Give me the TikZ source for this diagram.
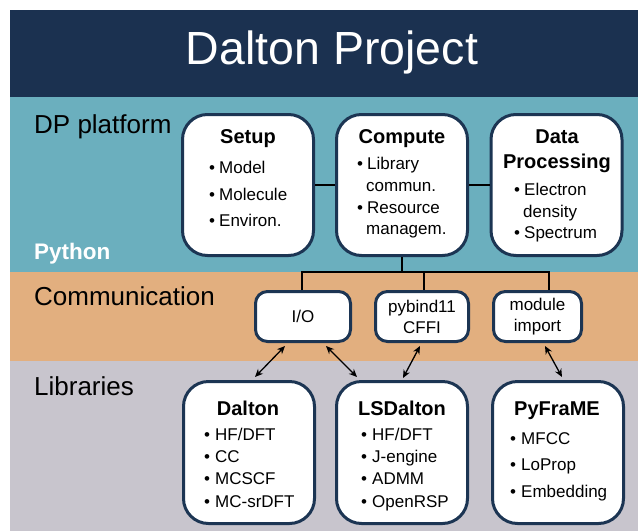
\documentclass[tikz,border=0pt]{standalone}
\usepackage{fontspec}
\setmainfont{Liberation Sans}
\usetikzlibrary{arrows.meta}
\definecolor{navy}{HTML}{1B3150}
\definecolor{teal}{HTML}{6BAFBE}
\definecolor{orng}{HTML}{E2AF7F}
\definecolor{gry}{HTML}{C8C5CD}
\definecolor{boxc}{HTML}{1C3553}
\tikzset{
  bigbox/.style={draw=boxc, line width=3pt, fill=white, rounded corners=25pt,
    minimum width=131pt, minimum height=141pt, inner sep=0pt},
  smallbox/.style={draw=boxc, line width=3pt, fill=white, rounded corners=12pt,
    minimum height=50pt, inner sep=0pt, align=center,
    font=\fontsize{17}{21}\selectfont},
  head/.style={anchor=base, inner sep=0pt, font=\bfseries\fontsize{20}{24}\selectfont},
  itm/.style={anchor=base west, inner sep=0pt, font=\fontsize{17}{20}\selectfont},
  lbl/.style={anchor=base west, inner sep=0pt, font=\fontsize{26}{30}\selectfont},
  tree/.style={line width=2pt, black},
  arr/.style={line width=1.3pt, black, {Stealth[length=8pt,width=7pt]}-{Stealth[length=8pt,width=7pt]}}
}
\newcommand\bitem[5]{%
  \node[itm] (#1b) at (#2,#4) {•};
  \node[itm] (#1) at (#3,#4) {#5};}
\begin{document}
\begin{tikzpicture}[x=1pt,y=-1pt]
\useasboundingbox (0,0) rectangle (638,531);
% bands
\fill[navy] (10,10) rectangle (638,97);
\fill[teal] (10,97) rectangle (638,272);
\fill[orng] (10,272) rectangle (638,361);
\fill[gry] (10,361) rectangle (638,531);
\node[anchor=base, inner sep=0pt, text=white, font=\fontsize{46.5}{50}\selectfont] (title) at (332,64) {Dalton Project};
% side labels
\node[lbl] (lplat) at (34,133) {DP platform};
\node[anchor=base west, inner sep=0pt, text=white, font=\bfseries\fontsize{22.5}{26}\selectfont] (lpy) at (34,259) {Python};
\node[lbl] (lcomm) at (34,305) {Communication};
\node[lbl] (llib) at (34,395) {Libraries};
% top boxes
\node[bigbox] (setup) at (248,185) {};
\node[bigbox] (compute) at (402,185) {};
\node[bigbox] (data) at (556.5,185) {};
\draw[tree] (setup) -- (compute);
\draw[tree] (compute) -- (data);
% comm boxes
\node[smallbox, minimum width=95pt] (io) at (303,316.5) {I/O};
\node[smallbox, minimum width=93pt] (pyb) at (422,316.5) {pybind11\\CFFI};
\node[smallbox, minimum width=88pt] (modimp) at (537.5,316.5) {module\\import};
% lib boxes
\node[bigbox, minimum height=142pt] (dalton) at (249,452.5) {};
\node[bigbox, minimum height=142pt] (lsdalton) at (402,452.5) {};
\node[bigbox, minimum height=142pt] (pyframe) at (558,452.5) {};
% tree
\coordinate (jc) at (402,272);
\coordinate (jl) at (302,272);
\coordinate (jm) at (424,272);
\coordinate (jr) at (549,272);
\draw[tree] (compute.south) -- (jc);
\draw[tree] (io.north -| jl) -- (jl) -- (jr) -- (modimp.north -| jr);
\draw[tree] (jm) -- (pyb.north -| jm);
% arrows
\draw[arr] ([xshift=-18pt,yshift=-3pt]io.south) -- ([xshift=6pt,yshift=3pt]dalton.north);
\draw[arr] ([xshift=23pt,yshift=-3pt]io.south) -- ([xshift=-45pt,yshift=3pt]lsdalton.north);
\draw[arr] ([xshift=-2pt,yshift=-3pt]pyb.south) -- ([xshift=1pt,yshift=2pt]lsdalton.north);
\draw[arr] ([xshift=7.5pt,yshift=-3pt]modimp.south) -- ([xshift=4pt,yshift=3pt]pyframe.north);
% setup text
\node[head] (hsetup) at (248,143) {Setup};
\bitem{s1}{209}{219}{173}{Model}
\bitem{s2}{209}{219}{200}{Molecule}
\bitem{s3}{209}{219}{226}{Environ.}
% compute text
\node[head] (hcomp) at (402,143) {Compute};
\bitem{c1}{357}{367}{169}{Library}
\node[itm] (c1x) at (366,191) {commun.};
\bitem{c2}{357}{367}{213}{Resource}
\node[itm] (c2x) at (366,234) {managem.};
% data text
\node[head] (hdata1) at (557,143) {Data};
\node[head] (hdata2) at (557,168) {Processing};
\bitem{d1}{514}{524}{195}{Electron}
\node[itm] (d1x) at (523,217) {density};
\bitem{d2}{514}{524}{238}{Spectrum}
% dalton text
\node[head] (hdal) at (248,415) {Dalton};
\bitem{a1}{204}{215}{440}{HF/DFT}
\bitem{a2}{204}{215}{462}{CC}
\bitem{a3}{204}{215}{484}{MCSCF}
\bitem{a4}{204}{215}{507}{MC-srDFT}
% lsdalton text
\node[head] (hlsd) at (402,415) {LSDalton};
\bitem{l1}{361}{372}{440}{HF/DFT}
\bitem{l2}{361}{372}{462}{J-engine}
\bitem{l3}{361}{372}{484}{ADMM}
\bitem{l4}{361}{372}{507}{OpenRSP}
% pyframe text
\node[head] (hpyf) at (557,415) {PyFraME};
\bitem{p1}{510}{521}{444}{MFCC}
\bitem{p2}{510}{521}{470}{LoProp}
\bitem{p3}{510}{521}{497}{Embedding}
\end{tikzpicture}
\end{document}
